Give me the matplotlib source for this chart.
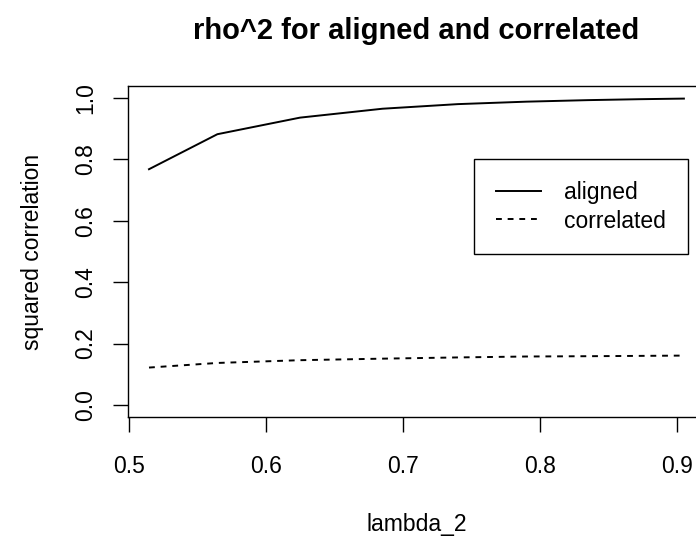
import numpy as np
import matplotlib
matplotlib.use('Agg')
import matplotlib.pyplot as plt

# values
lambda_2 = [0.5146, 0.5645, 0.6248, 0.685, 0.740, 0.790, 0.835, 0.872, 0.905]
aligned = [0.768, 0.882, 0.936, 0.965, 0.980, 0.988, 0.993, 0.996, 0.998]
correlated = [0.122, 0.137, 0.146, 0.151, 0.155, 0.158, 0.159, 0.160, 0.161]
x_ticks = [0.5, 0.6, 0.7, 0.8, 0.9]
y_ticks = [0.0, 0.2, 0.4, 0.6, 0.8, 1.0]

plt.rcParams['font.family'] = ['Liberation Sans', 'DejaVu Sans']

W, H = 696, 537
fig = plt.figure(figsize=(W / 100, H / 100), dpi=100)

# plot region in pixels (R style, box runs past the right edge)
left, right, top, bottom = 127.6, 705.3, 85.7, 417.3
ax = fig.add_axes([left / W, (H - bottom) / H, (right - left) / W, (bottom - top) / H])

lw = 1.4
ax.plot(lambda_2, aligned, color='black', lw=lw, label='aligned')
ax.plot(lambda_2, correlated, color='black', lw=lw, linestyle=(0, (3, 3)), label='correlated')

# R's 4% axis extension
xr = max(lambda_2) - min(lambda_2)
ax.set_xlim(min(lambda_2) - 0.04 * xr, max(lambda_2) + 0.04 * xr)
ax.set_ylim(-0.04, 1.04)

ax.set_xticks(x_ticks)
ax.set_xticklabels([f'{t:.1f}' for t in x_ticks])
ax.set_yticks(y_ticks)
ax.set_yticklabels([f'{t:.1f}' for t in y_ticks], rotation=90, va='center')
ax.tick_params(axis='both', direction='out', length=10.8, width=1.0, labelsize=16.5, colors='black')
ax.tick_params(axis='x', pad=16)
ax.tick_params(axis='y', pad=11)
for s in ax.spines.values():
    s.set_linewidth(1.0)
    s.set_color('black')

fs = 16.5
fig.text(416.5 / W, 1 - 31 / H, 'rho^2 for aligned and correlated', ha='center', va='center',
         fontsize=21, fontweight='bold')
fig.text(416.5 / W, 1 - 531 / H, 'lambda_2', ha='center', va='baseline', fontsize=fs)
fig.text(33 / W, 1 - 251.5 / H, 'squared correlation', ha='center', va='center', rotation=90, fontsize=fs)

leg = ax.legend(loc='upper right', bbox_to_anchor=(688 / W, 1 - 159 / H), bbox_transform=fig.transFigure,
                fontsize=fs, frameon=True, fancybox=False, edgecolor='black', framealpha=1,
                borderpad=0.95, handlelength=2.0, handletextpad=1.0, labelspacing=0.25, borderaxespad=0)
leg.get_frame().set_linewidth(1.0)

fig.savefig('out.png', dpi=100)
